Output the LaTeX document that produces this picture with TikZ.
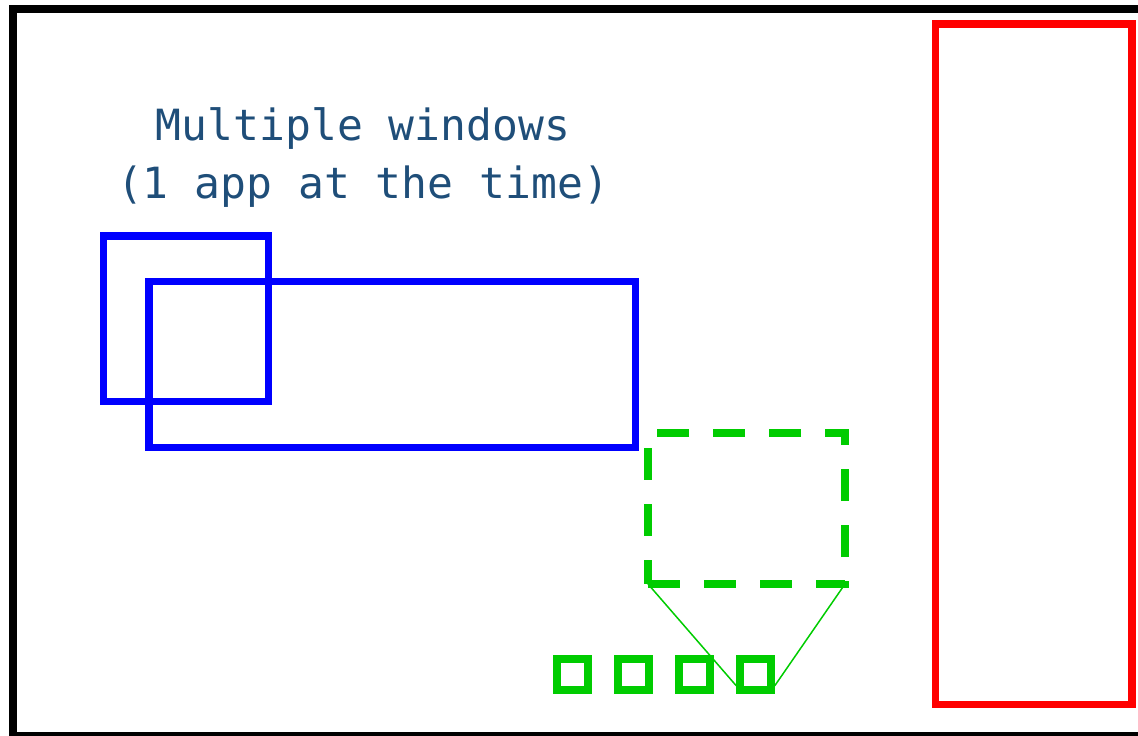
\documentclass[tikz,border=0pt]{standalone}
\usepackage{fontspec}
\newfontfamily\capfont{DejaVu Sans Mono}
\usetikzlibrary{positioning}
\definecolor{capblue}{RGB}{31,78,121}
\definecolor{tilegreen}{RGB}{0,204,0}

\begin{document}
\begin{tikzpicture}[x=1pt, y=-1pt,
    win/.style={draw=blue, line width=7.5pt, inner sep=0pt},
    tile/.style={draw=tilegreen, line width=7.5pt, inner sep=0pt, minimum size=31pt},
    zoombox/.style={draw=tilegreen, line width=8pt, dash pattern=on 32pt off 24pt, inner sep=0pt, outer sep=0pt},
    link/.style={draw=tilegreen, line width=1.5pt}]
  \useasboundingbox (0,0) rectangle (1138,736);
  % screen border
  \draw[line width=8pt] (13,9) rectangle (1142,736);

  \node[draw=red, line width=7.5pt, inner sep=0pt, minimum width=196.5pt, minimum height=680.5pt] (panel) at (1033.75,364.25) {};

  \node[font=\capfont\fontsize{43}{58}\selectfont, text=capblue, align=center, anchor=base] (caption) at (363,198) {Multiple windows\\(1 app at the time)};

  \node[win, minimum width=165pt, minimum height=165.5pt] (winA) at (186.2,318.8) {};
  \node[win, minimum width=486.5pt, minimum height=166pt] (winB) at (392,364.4) {};

  \node[zoombox, minimum width=197pt, minimum height=151pt] (zoom) at (746.5,508.5) {};

  \node[tile] (sq1) at (572.5,674.5) {};
  \node[tile, right=22.5pt of sq1] (sq2) {};
  \node[tile, right=22.5pt of sq2] (sq3) {};
  \node[tile, right=22.5pt of sq3] (sq4) {};

  \draw[link] (zoom.south west) -- ([yshift=8pt]sq4.south west);
  \draw[link] (zoom.south east) -- ([yshift=8pt]sq4.south east);
\end{tikzpicture}
\end{document}
